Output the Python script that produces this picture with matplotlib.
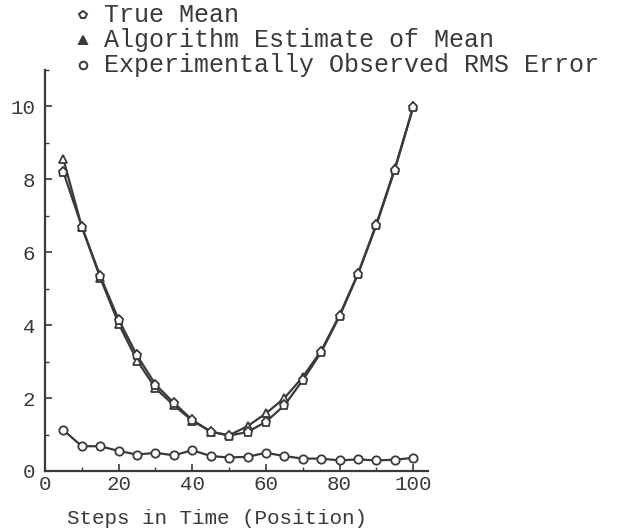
import matplotlib as mpl
mpl.use("Agg")
import matplotlib.pyplot as plt
from matplotlib.lines import Line2D
from matplotlib.ticker import MultipleLocator
from matplotlib.transforms import ScaledTranslation


# values
steps = [5, 10, 15, 20, 25, 30, 35, 40, 45, 50,
         55, 60, 65, 70, 75, 80, 85, 90, 95, 100]
true_mean = [8.20, 6.70, 5.35, 4.15, 3.17, 2.37, 1.87, 1.40, 1.08, 0.97,
             1.07, 1.35, 1.80, 2.49, 3.26, 4.25, 5.40, 6.75, 8.27, 9.98]
est_mean = [8.55, 6.70, 5.30, 4.04, 3.03, 2.27, 1.80, 1.38, 1.08, 0.98,
            1.23, 1.58, 2.00, 2.58, 3.30, 4.28, 5.42, 6.78, 8.30, 10.00]
rms_error = [1.12, 0.68, 0.68, 0.55, 0.45, 0.50, 0.43, 0.57, 0.41, 0.37,
             0.39, 0.50, 0.41, 0.34, 0.34, 0.29, 0.32, 0.29, 0.31, 0.36]

legend_labels = ["True Mean", "Algorithm Estimate of Mean",
                 "Experimentally Observed RMS Error"]

INK = "#3a3a3a"
W, H = 644, 528

plt.rcParams["font.family"] = ["Liberation Mono", "DejaVu Sans Mono"]

fig = plt.figure(figsize=(W / 100, H / 100), dpi=100)
ax = fig.add_axes([45 / W, 1 - 471 / H, (428 - 45) / W, (471 - 70) / H])

ax.plot(steps, true_mean, color=INK, lw=1.6, marker="p", ms=6.5,
        mfc="white", mec=INK, mew=1.3, zorder=3)
ax.plot(steps, est_mean, color=INK, lw=1.6, marker="^", ms=5.5,
        mfc="white", mec=INK, mew=1.3, zorder=2)
ax.plot(steps, rms_error, color=INK, lw=1.6, marker="o", ms=6,
        mfc="white", mec=INK, mew=1.3, zorder=3)

ax.set_xlim(0, 104)
ax.set_ylim(0, 11)
ax.xaxis.set_major_locator(MultipleLocator(20))
ax.xaxis.set_minor_locator(MultipleLocator(10))
ax.yaxis.set_major_locator(MultipleLocator(2))
ax.yaxis.set_minor_locator(MultipleLocator(1))
ax.spines["top"].set_visible(False)
ax.spines["right"].set_visible(False)
for s in ("left", "bottom"):
    ax.spines[s].set_linewidth(1.6)
    ax.spines[s].set_color(INK)
ax.tick_params(which="major", direction="in", length=5, width=1.2,
               color=INK, labelsize=15, labelcolor=INK)
ax.tick_params(which="minor", direction="in", length=3, width=1.0, color=INK)
ax.tick_params(axis="y", pad=7)
ax.tick_params(axis="x", pad=3)

# the zero on the y axis sits a little above the corner
ylab0 = ax.get_yticklabels()[0]
ylab0.set_transform(ylab0.get_transform()
                    + ScaledTranslation(0, 9 / 72, fig.dpi_scale_trans))

ax.set_xlabel("Steps in Time (Position)", fontsize=15, color=INK, labelpad=2)
ax.xaxis.set_label_coords(0.45, -0.095)

# legend, stacked above the plot
markers = ["p", "^", "o"]
for i, (lab, mk) in enumerate(zip(legend_labels, markers)):
    y = 1 - (15 + 25 * i) / H
    fig.add_artist(Line2D([83 / W], [y], transform=fig.transFigure,
                          marker=mk, ms=5.5, mfc="white" if mk != "^" else INK,
                          mec=INK, mew=1.4, ls="none"))
    fig.text(104 / W, y, lab, fontsize=18, color=INK, va="center", ha="left")

fig.savefig("out.png", dpi=100, facecolor="white")
